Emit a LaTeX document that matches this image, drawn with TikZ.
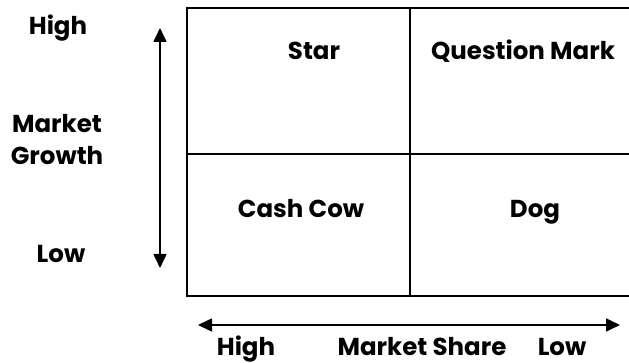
\documentclass[tikz,border=0pt]{standalone}
\usepackage{fontspec}
\setmainfont{Poppins}
\usetikzlibrary{arrows.meta}

\begin{document}
\begin{tikzpicture}[x=1pt,y=-1pt,
    lbl/.style={font=\bfseries\fontsize{24.5}{28}\selectfont,inner sep=0pt,anchor=base},
    grid/.style={line width=2.2pt},
    axis/.style={line width=1.6pt,{Triangle[width=13pt,length=14pt]}-{Triangle[width=13pt,length=14pt]}}]
  \useasboundingbox (0,0) rectangle (629,363);

  % matrix
  \draw[grid] (187,8) rectangle (640,296);
  \draw[grid] (410,8) -- (410,296);
  \draw[grid] (187,154) -- (640,154);

  \node[lbl] (star) at (314,60){Star};
  \node[lbl] (qm) at (523,60){Question Mark};
  \node[lbl] (cc) at (301,218){Cash Cow};
  \node[lbl] (dog) at (535,218){Dog};

  % growth axis
  \coordinate (gtop) at (160,28);
  \coordinate (gbot) at (160,268);
  \draw[axis] (gtop) -- (gbot);

  \node[lbl] (ghi) at (58,35){High};
  \node[lbl] (gm) at (57,133){Market};
  \node[lbl] (gg) at (57,165){Growth};
  \node[lbl] (glo) at (61,263){Low};

  % share axis
  \coordinate (sleft) at (198,325);
  \coordinate (sright) at (620,325);
  \draw[axis] (sleft) -- (sright);

  \node[lbl] (shi) at (246,355){High};
  \node[lbl] (sm) at (422,355){Market Share};
  \node[lbl] (slo) at (562,355){Low};
\end{tikzpicture}
\end{document}
